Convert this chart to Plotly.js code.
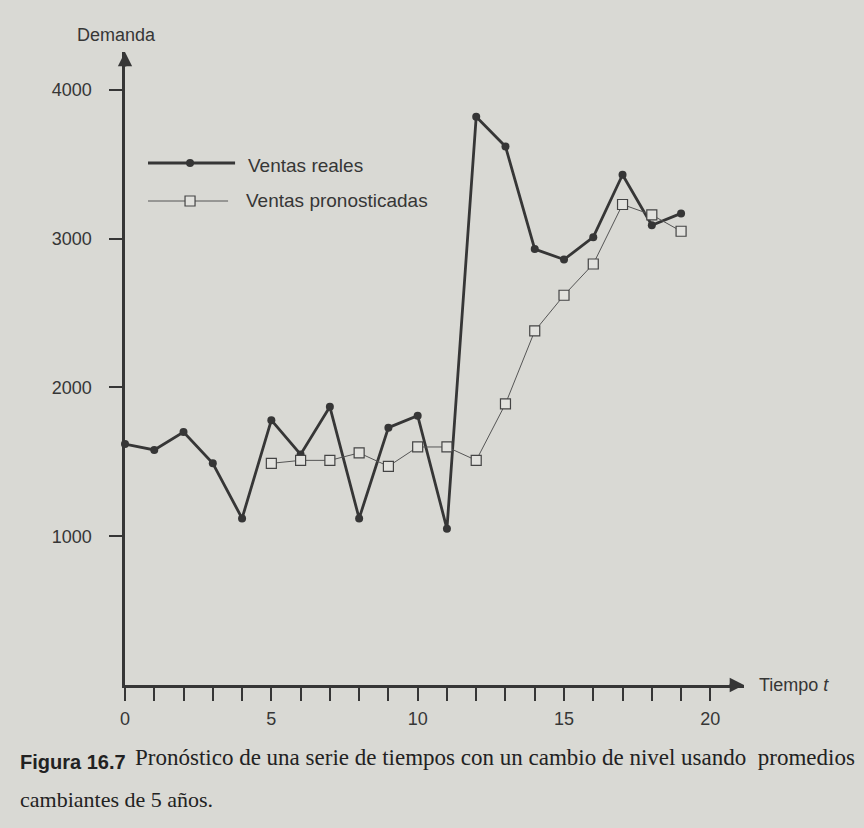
<!DOCTYPE html>
<html>
<head>
<meta charset="utf-8">
<script src="https://cdn.plot.ly/plotly-3.0.1.min.js"></script>
<style>html,body{margin:0;padding:0;background:#d9d9d4;}</style>
</head>
<body>
<div id="chart" style="width:864px;height:828px;"></div>
<script>
// Data
const tiempo = [0,1,2,3,4,5,6,7,8,9,10,11,12,13,14,15,16,17,18,19];
const ventasReales = [1620,1580,1700,1490,1120,1780,1550,1870,1120,1730,1810,1050,3820,3620,2930,2860,3010,3430,3090,3170];
const tiempoPron = [5,6,7,8,9,10,11,12,13,14,15,16,17,18,19];
const ventasPronosticadas = [1490,1510,1510,1560,1470,1600,1600,1510,1890,2380,2620,2830,3230,3160,3050];
const xTickVals = [0,1,2,3,4,5,6,7,8,9,10,11,12,13,14,15,16,17,18,19,20];
const xTickText = ['0','','','','','5','','','','','10','','','','','15','','','','','20'];
const yTickVals = [1000,2000,3000,4000];
const yTickText = ['1000','2000','3000','4000'];
const legendNames = ['Ventas reales','Ventas pronosticadas'];

const ink = '#363636';
const bg = '#d9d9d4';
const font = 'Liberation Sans, Arial, sans-serif';

const traces = [
  {
    x: tiempo, y: ventasReales, type: 'scatter', mode: 'lines+markers',
    line: {color: ink, width: 2.8}, marker: {color: ink, size: 8, symbol: 'circle'},
    showlegend: false, cliponaxis: false
  },
  {
    x: tiempoPron, y: ventasPronosticadas, type: 'scatter', mode: 'lines+markers',
    line: {color: '#555', width: 1}, marker: {color: '#e2e2de', size: 10, symbol: 'square', line: {color: '#444', width: 1.2}},
    showlegend: false, cliponaxis: false
  },
  // legend samples on an overlay axis measured in pixels from plot origin
  {
    x: [23, 110], y: [522, 522], xaxis: 'x2', yaxis: 'y2', type: 'scatter', mode: 'lines',
    line: {color: ink, width: 2.8}, showlegend: false, hoverinfo: 'skip'
  },
  {
    x: [65], y: [522], xaxis: 'x2', yaxis: 'y2', type: 'scatter', mode: 'markers',
    marker: {color: ink, size: 8}, showlegend: false, hoverinfo: 'skip'
  },
  {
    x: [23, 103], y: [484, 484], xaxis: 'x2', yaxis: 'y2', type: 'scatter', mode: 'lines',
    line: {color: '#555', width: 1}, showlegend: false, hoverinfo: 'skip'
  },
  {
    x: [65], y: [484], xaxis: 'x2', yaxis: 'y2', type: 'scatter', mode: 'markers',
    marker: {color: '#e2e2de', size: 10, symbol: 'square', line: {color: '#444', width: 1.2}},
    showlegend: false, hoverinfo: 'skip'
  }
];

const layout = {
  width: 864, height: 828,
  margin: {l: 125, r: 120, t: 52, b: 143},
  paper_bgcolor: bg, plot_bgcolor: bg,
  font: {family: font, size: 18, color: ink},
  showlegend: false,
  xaxis: {
    range: [0, 21.15], showgrid: false, zeroline: false,
    showline: true, linecolor: ink, linewidth: 2.6,
    ticks: 'outside', ticklen: 13, tickwidth: 2, tickcolor: ink,
    tickvals: xTickVals, ticktext: xTickText, ticklabelstandoff: 3,
    tickfont: {family: font, size: 18, color: ink}
  },
  yaxis: {
    range: [0, 4255], showgrid: false, zeroline: false,
    showline: true, linecolor: ink, linewidth: 2.6,
    ticks: 'outside', ticklen: 13, tickwidth: 2, tickcolor: ink,
    tickvals: yTickVals, ticktext: yTickText, ticklabelstandoff: 14,
    tickfont: {family: font, size: 18, color: ink}
  },
  xaxis2: {overlaying: 'x', range: [0, 618.6], visible: false, fixedrange: true},
  yaxis2: {overlaying: 'y', range: [0, 633], visible: false, fixedrange: true},
  annotations: [
    {x: 21.15, y: 0, xref: 'x', yref: 'y', ax: -16, ay: 0, text: '', showarrow: true,
     arrowhead: 2, arrowsize: 1.1, arrowwidth: 2.6, arrowcolor: ink},
    {x: 0, y: 4255, xref: 'x', yref: 'y', ax: 0, ay: 16, text: '', showarrow: true,
     arrowhead: 2, arrowsize: 1.1, arrowwidth: 2.6, arrowcolor: ink},
    {x: 75, y: 828 - 35, xref: 'paper', yref: 'paper', text: 'Demanda', showarrow: false,
     xanchor: 'left', yanchor: 'middle', font: {family: font, size: 18, color: ink}},
    {x: 757, y: 828 - 685, text: 'Tiempo <i>t</i>', showarrow: false,
     xanchor: 'left', yanchor: 'middle', font: {family: font, size: 18, color: ink}},
    {x: 246, y: 828 - 165, text: legendNames[0], showarrow: false,
     xanchor: 'left', yanchor: 'middle', font: {family: font, size: 19, color: ink}},
    {x: 244, y: 828 - 201, text: legendNames[1], showarrow: false,
     xanchor: 'left', yanchor: 'middle', font: {family: font, size: 19, color: ink}},
    {x: 18, y: 828 - 762, text: '<b>Figura 16.7</b>', showarrow: false,
     xanchor: 'left', yanchor: 'middle', font: {family: 'Liberation Sans Narrow, Liberation Sans, Arial, sans-serif', size: 20, color: '#222'}},
    {x: 133, y: 828 - 757, text: 'Pronóstico de una serie de tiempos con un cambio de nivel usando  promedios', showarrow: false,
     xanchor: 'left', yanchor: 'middle', font: {family: 'Liberation Serif, DejaVu Serif, serif', size: 23, color: '#222'}},
    {x: 18, y: 828 - 799, text: 'cambiantes de 5 años.', showarrow: false,
     xanchor: 'left', yanchor: 'middle', font: {family: 'Liberation Serif, DejaVu Serif, serif', size: 22, color: '#222'}}
  ]
};

// convert pixel-positioned text annotations to paper coordinates
layout.annotations.forEach(a => {
  if (!a.xref || a.xref === 'paper') {
    a.xref = 'paper'; a.yref = 'paper';
    a.x = (a.x - 125) / 618.6;
    a.y = (a.y - 143) / 633;
  }
});

Plotly.newPlot('chart', traces, layout, {displayModeBar: false, staticPlot: true});
</script>
</body>
</html>
